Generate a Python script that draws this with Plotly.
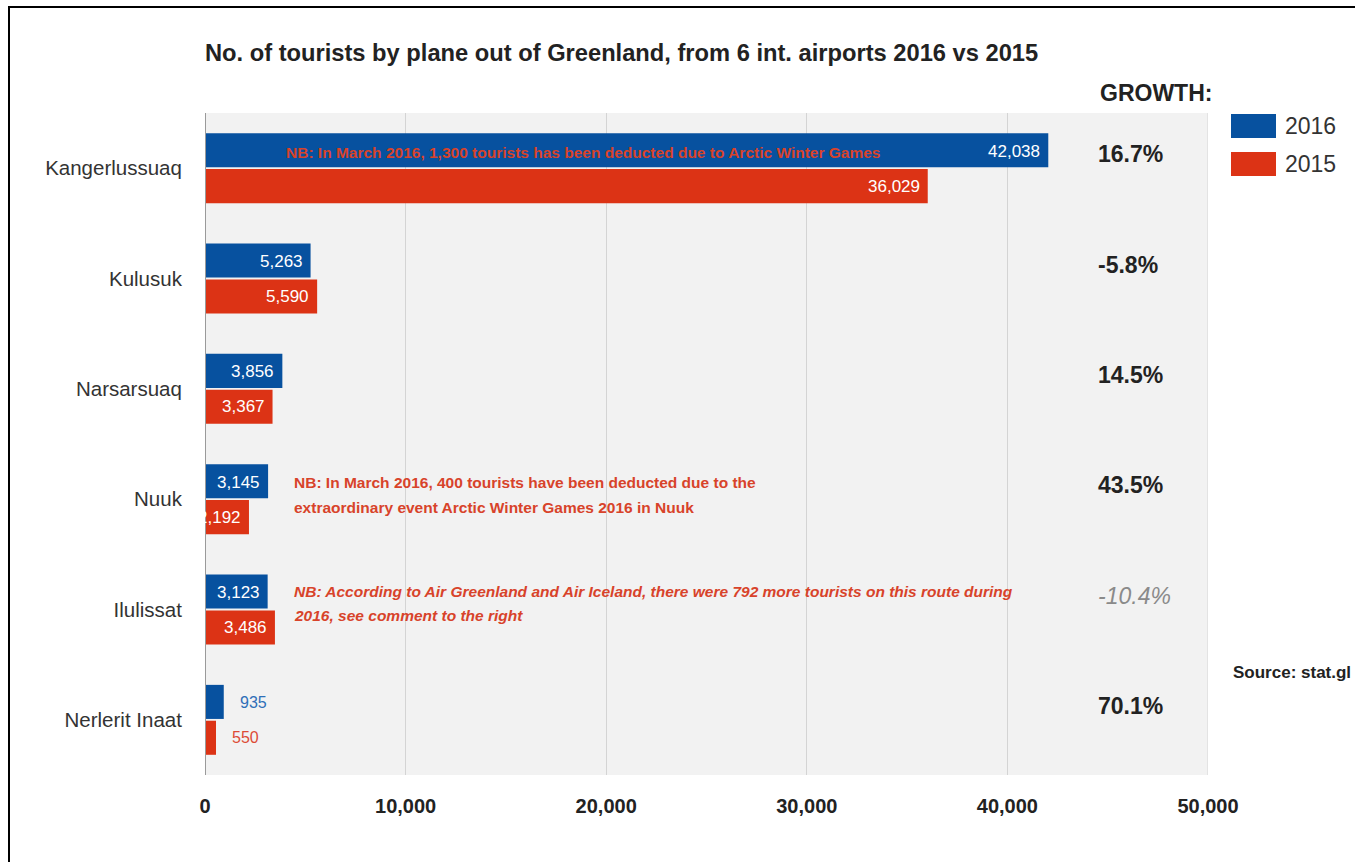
import plotly.graph_objects as go

# Tourists departing by plane, per international airport
airports = ["Kangerlussuaq", "Kulusuk", "Narsarsuaq", "Nuuk", "Ilulissat", "Nerlerit Inaat"]
tourists_2016 = [42038, 5263, 3856, 3145, 3123, 935]
tourists_2015 = [36029, 5590, 3367, 2192, 3486, 550]
growth_labels = ["16.7%", "-5.8%", "14.5%", "43.5%", "-10.4%", "70.1%"]
x_ticks = [0, 10000, 20000, 30000, 40000, 50000]

BLUE = "#07519f"
RED = "#dc3315"
NOTE_RED = "#d8432a"
FONT = "Liberation Sans, Arial, sans-serif"

W, H = 1355, 862
ML, MR, MT, MB = 205, 147, 113, 87


def px_x(px):
    """Horizontal pixel position -> paper fraction."""
    return (px - ML) / (W - ML - MR)


def px_y(py):
    """Vertical pixel position (from top) -> paper fraction."""
    return (H - MB - py) / (H - MT - MB)


fig = go.Figure()
fig.add_trace(go.Bar(name="2016", y=airports, x=tourists_2016, orientation="h",
                     marker=dict(color=BLUE, line=dict(width=0)), showlegend=False))
fig.add_trace(go.Bar(name="2015", y=airports, x=tourists_2015, orientation="h",
                     marker=dict(color=RED, line=dict(width=0)), showlegend=False))

annotations = []
last = len(airports) - 1
# value labels: white inside the bar end, coloured outside for the smallest airport
for vals, shift, col in [(tourists_2016, 17, "#2f6fb8"), (tourists_2015, -18, "#dd4b36")]:
    for i, (cat, v) in enumerate(zip(airports, vals)):
        if i == last:
            annotations.append(dict(x=v, y=cat, xref="x", yref="y", text=f"{v:,}",
                                    xanchor="left", yanchor="middle", xshift=14, yshift=shift,
                                    showarrow=False, font=dict(family=FONT, size=16, color=col)))
        else:
            annotations.append(dict(x=v, y=cat, xref="x", yref="y", text=f"{v:,}",
                                    xanchor="right", yanchor="middle", xshift=-6, yshift=shift,
                                    showarrow=False, font=dict(family=FONT, size=17, color="white")))

# growth column
annotations.append(dict(x=px_x(1098), y=px_y(93), xref="paper", yref="paper", text="<b>GROWTH:</b>",
                        xanchor="left", yanchor="middle", showarrow=False,
                        font=dict(family=FONT, size=23, color="#222222")))
for cat, g in zip(airports, growth_labels):
    if g.startswith("-10"):
        txt, col = f"<i>{g}</i>", "#8a8a8a"
    else:
        txt, col = f"<b>{g}</b>", "#222222"
    annotations.append(dict(x=px_x(1096), y=cat, xref="paper", yref="y", text=txt,
                            xanchor="left", yanchor="middle", yshift=14, showarrow=False,
                            font=dict(family=FONT, size=23, color=col)))

# notes (one annotation per line)
note_font = dict(family=FONT, size=15.5, color=NOTE_RED)
annotations.append(dict(x=px_x(583), y=airports[0], xref="paper", yref="y",
                        text="<b>NB: In March 2016, 1,300 tourists has been deducted due to Arctic Winter Games</b>",
                        xanchor="center", yanchor="middle", yshift=16, showarrow=False, font=note_font))
nuuk_lines = ["NB: In March 2016, 400 tourists have been deducted due to the",
              "extraordinary event Arctic Winter Games 2016 in Nuuk"]
for line, shift in zip(nuuk_lines, [17, -8]):
    annotations.append(dict(x=px_x(292), y=airports[3], xref="paper", yref="y", text=f"<b>{line}</b>",
                            xanchor="left", yanchor="middle", yshift=shift, showarrow=False, font=note_font))
ilu_lines = ["NB: According to Air Greenland and Air Iceland, there were 792 more tourists on this route during",
             "2016, see comment to the right"]
for line, shift in zip(ilu_lines, [18, -6]):
    annotations.append(dict(x=px_x(292), y=airports[4], xref="paper", yref="y", text=f"<b><i>{line}</i></b>",
                            xanchor="left", yanchor="middle", yshift=shift, showarrow=False, font=note_font))

# source
annotations.append(dict(x=px_x(1231), y=px_y(672), xref="paper", yref="paper", text="<b>Source: stat.gl</b>",
                        xanchor="left", yanchor="middle", showarrow=False,
                        font=dict(family=FONT, size=17, color="#222222")))

# legend entries
for name, yc in [("2016", 126), ("2015", 164)]:
    annotations.append(dict(x=px_x(1283), y=px_y(yc), xref="paper", yref="paper", text=name,
                            xanchor="left", yanchor="middle", showarrow=False,
                            font=dict(family=FONT, size=23, color="#333333")))

shapes = [
    # outer frame
    dict(type="rect", xref="paper", yref="paper", x0=px_x(9), x1=px_x(1400), y0=px_y(900), y1=px_y(7),
         line=dict(color="black", width=2), fillcolor="rgba(0,0,0,0)", layer="below"),
    # legend swatches
    dict(type="rect", xref="paper", yref="paper", x0=px_x(1231), x1=px_x(1276), y0=px_y(138), y1=px_y(114),
         line=dict(width=0), fillcolor=BLUE),
    dict(type="rect", xref="paper", yref="paper", x0=px_x(1231), x1=px_x(1276), y0=px_y(176), y1=px_y(152),
         line=dict(width=0), fillcolor=RED),
    # closing gridline at the end of the value axis
    dict(type="line", xref="x", yref="paper", x0=x_ticks[-1], x1=x_ticks[-1], y0=0, y1=1,
         line=dict(color="#d4d4d4", width=1), layer="below"),
    # zero axis line on the left of the bars
    dict(type="line", xref="x", yref="paper", x0=x_ticks[0], x1=x_ticks[0], y0=0, y1=1,
         line=dict(color="#9a9a9a", width=2), layer="above"),
]

fig.update_layout(
    width=W, height=H,
    margin=dict(l=ML, r=MR, t=MT, b=MB, autoexpand=False),
    paper_bgcolor="white",
    plot_bgcolor="#f2f2f2",
    barmode="group",
    bargap=0.35,
    bargroupgap=0.05,
    title=dict(text="<b>No. of tourists by plane out of Greenland, from 6 int. airports 2016 vs 2015</b>",
               x=px_x(205), xref="paper", xanchor="left", y=1 - 53 / H, yref="container", yanchor="middle",
               font=dict(family=FONT, size=23.7, color="#222222")),
    font=dict(family=FONT),
    annotations=annotations,
    shapes=shapes,
    showlegend=False,
)
fig.update_xaxes(range=[0, 50000], tickvals=x_ticks, tickformat=",", showgrid=True, gridcolor="#d4d4d4",
                 gridwidth=1, zeroline=False, showline=False, ticks="outside", ticklen=13,
                 tickcolor="rgba(0,0,0,0)",
                 tickfont=dict(family=FONT, size=20, color="#222222", weight="bold"),
                 fixedrange=True)
fig.update_yaxes(autorange="reversed", showgrid=False, zeroline=False, showline=False,
                 ticks="outside", ticklen=18, tickcolor="rgba(0,0,0,0)",
                 tickfont=dict(family=FONT, size=20.5, color="#333333"), fixedrange=True)

fig.write_html("out.html")
